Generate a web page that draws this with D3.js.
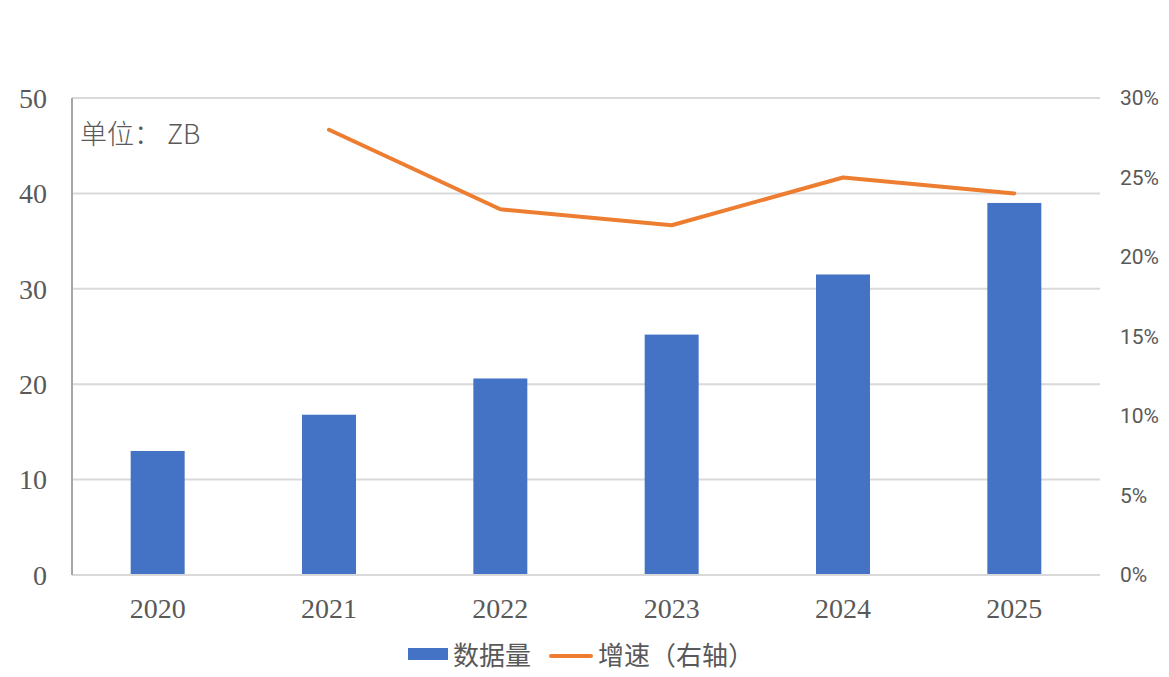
<!DOCTYPE html>
<html>
<head>
<meta charset="UTF-8">
<script src="https://d3js.org/d3.v7.min.js"></script>
<style>
  body { margin: 0; background: #fff; }
</style>
</head>
<body>
<div id="chart"></div>
<script>
// data
var years = ["2020", "2021", "2022", "2023", "2024", "2025"];
var volume = [13.0, 16.8, 20.6, 25.2, 31.5, 39.0];
var growth = [null, 28, 23, 22, 25, 24];
var leftTicks = [0, 10, 20, 30, 40, 50];
var rightTicks = [0, 5, 10, 15, 20, 25, 30];

var width = 1169, height = 677;
var margin = { left: 72, right: 69, top: 98, bottom: 102 };

var svg = d3.select("#chart").append("svg")
  .attr("width", width)
  .attr("height", height);

var x = d3.scaleBand()
  .domain(years)
  .range([margin.left, width - margin.right])
  .paddingInner(0.685)
  .paddingOuter(0.3425);

var y = d3.scaleLinear().domain([0, 50]).range([height - margin.bottom, margin.top]);
var y2 = d3.scaleLinear().domain([0, 30]).range([height - margin.bottom, margin.top]);

// gridlines
svg.append("g")
  .selectAll("line")
  .data(leftTicks.slice(1))
  .enter().append("line")
  .attr("x1", margin.left)
  .attr("x2", width - margin.right)
  .attr("y1", function(d) { return y(d); })
  .attr("y2", function(d) { return y(d); })
  .attr("stroke", "#d9d9d9")
  .attr("stroke-width", 2);

// bars
svg.append("g")
  .selectAll("rect")
  .data(volume)
  .enter().append("rect")
  .attr("x", function(d, i) { return x(years[i]); })
  .attr("width", x.bandwidth())
  .attr("y", function(d) { return y(d); })
  .attr("height", function(d) { return y(0) - y(d); })
  .attr("fill", "#4472c4");

// axis lines
svg.append("line")
  .attr("x1", margin.left).attr("x2", width - margin.right)
  .attr("y1", y(0)).attr("y2", y(0))
  .attr("stroke", "#d9d9d9").attr("stroke-width", 2);
svg.append("line")
  .attr("x1", margin.left).attr("x2", margin.left)
  .attr("y1", y(50)).attr("y2", y(0))
  .attr("stroke", "#a6a6a6").attr("stroke-width", 2);

// growth line
var line = d3.line()
  .defined(function(d) { return d != null; })
  .x(function(d, i) { return x(years[i]) + x.bandwidth() / 2; })
  .y(function(d) { return y2(d); });

svg.append("path")
  .datum(growth)
  .attr("d", line)
  .attr("fill", "none")
  .attr("stroke", "#ed7d31")
  .attr("stroke-width", 4)
  .attr("stroke-linecap", "round")
  .attr("stroke-linejoin", "round");

// left tick labels
svg.append("g")
  .selectAll("text")
  .data(leftTicks)
  .enter().append("text")
  .attr("x", 47)
  .attr("y", function(d) { return y(d); })
  .attr("dy", "0.35em")
  .attr("text-anchor", "end")
  .style("font-family", "'Liberation Serif', 'DejaVu Serif', serif")
  .style("font-size", "28px")
  .attr("fill", "#595959")
  .text(function(d) { return d; });

// right tick labels
svg.append("g")
  .selectAll("text")
  .data(rightTicks)
  .enter().append("text")
  .attr("x", 1120)
  .attr("y", function(d) { return y2(d); })
  .attr("dy", "0.35em")
  .attr("text-anchor", "start")
  .style("font-family", "'Liberation Sans Narrow', 'Roboto', sans-serif")
  .style("font-size", "21px")
  .attr("fill", "#595959")
  .text(function(d) { return d + "%"; });

// x labels
svg.append("g")
  .selectAll("text")
  .data(years)
  .enter().append("text")
  .attr("x", function(d) { return x(d) + x.bandwidth() / 2; })
  .attr("y", 608)
  .attr("dy", "0.35em")
  .attr("text-anchor", "middle")
  .style("font-family", "'Liberation Serif', 'DejaVu Serif', serif")
  .style("font-size", "28px")
  .attr("fill", "#595959")
  .text(function(d) { return d; });

// unit label
var unit = svg.append("text")
  .attr("x", 80)
  .attr("y", 135)
  .attr("dy", "0.35em")
  .style("font-family", "'Noto Sans CJK SC', sans-serif")
  .style("font-weight", 300)
  .style("font-size", "27px")
  .attr("fill", "#595959");
unit.append("tspan").text("单位：");
unit.append("tspan").attr("dx", 6).text("ZB");

// legend
var legend = svg.append("g");
legend.append("rect")
  .attr("x", 408).attr("y", 648)
  .attr("width", 40).attr("height", 12)
  .attr("fill", "#4472c4");
legend.append("text")
  .attr("x", 453).attr("y", 656)
  .attr("dy", "0.35em")
  .style("font-family", "'Noto Sans CJK SC', sans-serif")
  .style("font-size", "26px")
  .attr("fill", "#595959")
  .text("数据量");
legend.append("line")
  .attr("x1", 551).attr("x2", 591)
  .attr("y1", 656).attr("y2", 656)
  .attr("stroke", "#ed7d31")
  .attr("stroke-width", 4)
  .attr("stroke-linecap", "round");
legend.append("text")
  .attr("x", 598).attr("y", 656)
  .attr("dy", "0.35em")
  .style("font-family", "'Noto Sans CJK SC', sans-serif")
  .style("font-size", "26px")
  .attr("fill", "#595959")
  .text("增速（右轴）");
</script>
</body>
</html>
